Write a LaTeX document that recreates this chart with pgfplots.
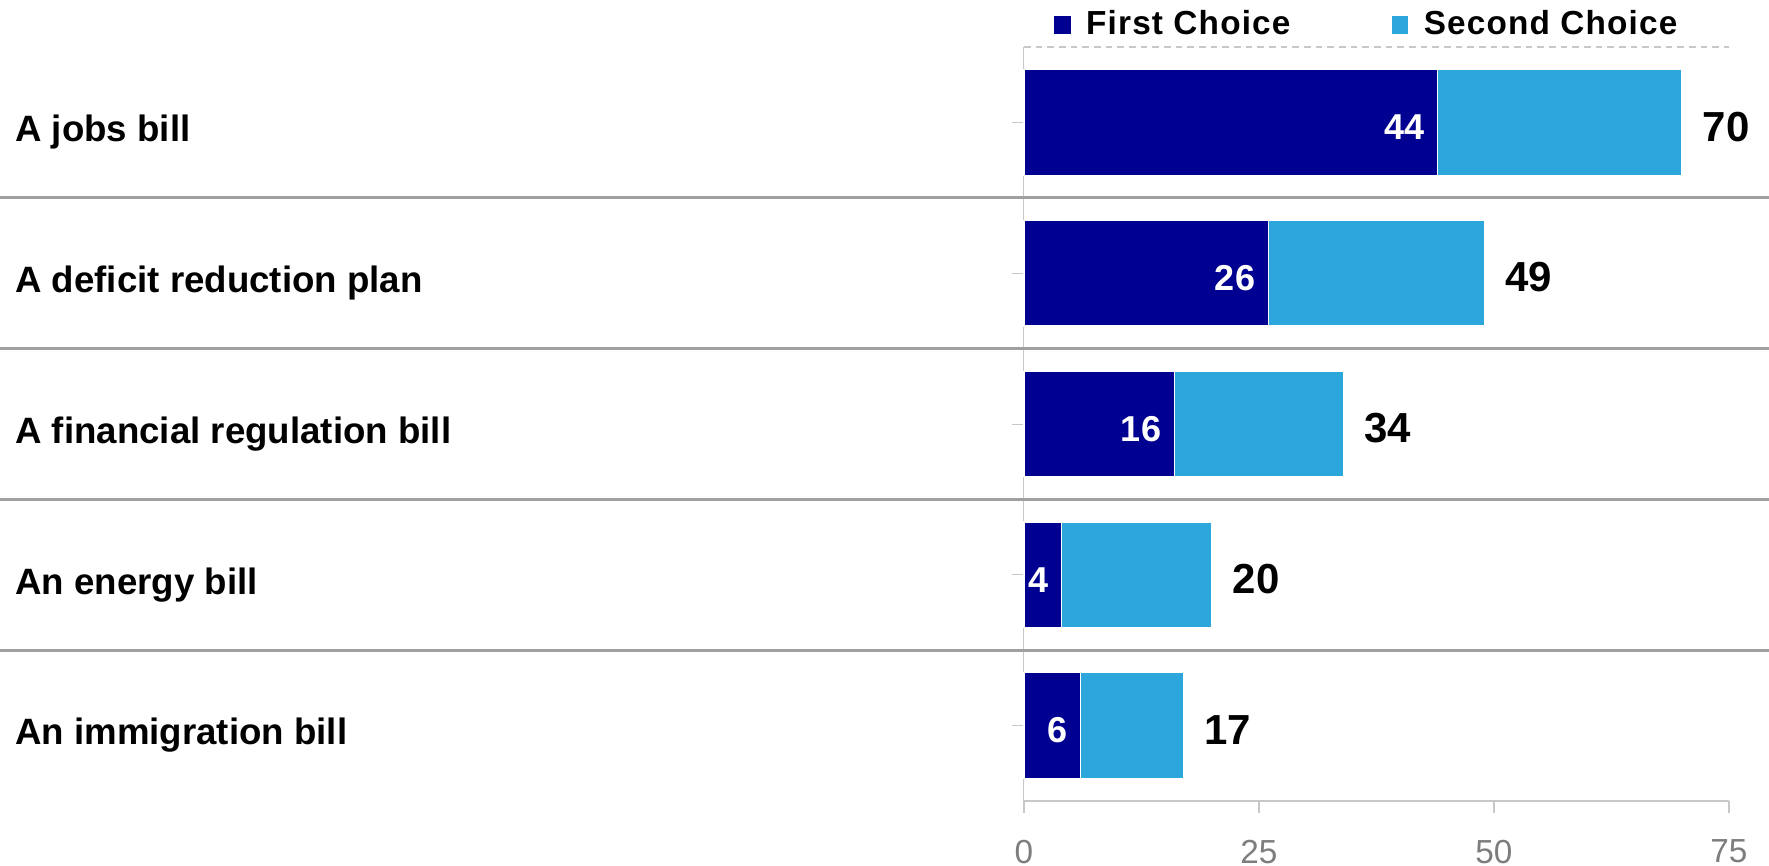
\documentclass[border=0pt]{standalone}
\usepackage{pgfplots}
\pgfplotsset{compat=1.18}
\usepackage{fontspec}
\setmainfont{Liberation Sans}
\newfontfamily\legfont[LetterSpace=3.5]{Liberation Sans}
\newfontfamily\numfont[LetterSpace=2]{Liberation Sans}
\definecolor{firstc}{RGB}{0,0,145}
\definecolor{secondc}{RGB}{45,166,220}
\definecolor{sepgray}{RGB}{160,160,160}
\definecolor{axgray}{RGB}{200,200,200}
\definecolor{tickgray}{RGB}{125,125,125}
\pgfplotsset{
  geom/.style={at={(307.2pt,19.5pt)}, anchor=south west,
    scale only axis, width=211.5pt, height=226.2pt,
    xmin=0, xmax=75, ymin=-0.5, ymax=4.5, clip=false,
    /pgf/number format/assume math mode=true},
}
\begin{document}
\begin{tikzpicture}
\useasboundingbox (0,0) rectangle (530.7pt,259.8pt);
\begin{axis}[
  geom,
  xbar stacked, bar width=0.7,
  xtick={0,25,50,75},
  ytick={0,1,2,3,4},
  yticklabels={An immigration bill, An energy bill, A financial regulation bill, A deficit reduction plan, A jobs bill},
  axis x line*=bottom, axis y line*=left,
  x axis line style={draw=axgray, line width=0.6pt},
  y axis line style={draw=axgray, line width=0.3pt},
  tick align=outside, major tick length=3.6pt,
  xtick style={draw=axgray, line width=0.6pt},
  ytick style={draw=axgray, line width=0.3pt},
  xticklabel style={font=\fontsize{10}{12}\selectfont, text=tickgray, yshift=-4.5pt},
  yticklabel style={font=\fontsize{11}{13}\selectfont\bfseries, anchor=west, inner sep=0pt, xshift=-299.2pt, yshift=-3pt, text=black},
  legend image code/.code={\fill[#1] (0pt,-2.8pt) rectangle (5.4pt,2.8pt);},
  legend style={draw=none, fill=none, at={(0.04,1.029)}, anchor=west, inner sep=0pt,
    legend columns=2, font=\legfont\bfseries\fontsize{10}{12}\selectfont,
    nodes={inner xsep=4.2pt},
    /tikz/every even column/.append style={column sep=25.8pt}},
]
\addplot[fill=firstc, draw=white, line width=0.4pt]
  table[x index=0, y index=1] {
44 4
26 3
16 2
4 1
6 0
};
\addplot[fill=secondc, draw=white, line width=0.4pt]
  table[x index=0, y index=1] {
26 4
23 3
18 2
16 1
11 0
};
\legend{First Choice, Second Choice}
\draw[axgray, dash pattern=on 2pt off 1.5pt, line width=0.5pt] (axis cs:0,4.5) -- (axis cs:75,4.5);
\draw[sepgray, line width=1pt] (axis cs:-108.9,0.5) -- (axis cs:79.3,0.5);
\draw[sepgray, line width=1pt] (axis cs:-108.9,1.5) -- (axis cs:79.3,1.5);
\draw[sepgray, line width=1pt] (axis cs:-108.9,2.5) -- (axis cs:79.3,2.5);
\draw[sepgray, line width=1pt] (axis cs:-108.9,3.5) -- (axis cs:79.3,3.5);
\end{axis}
\begin{axis}[geom, hide axis, point meta=explicit]
\addplot[draw=none, nodes near coords,
  every node near coord/.append style={anchor=east, inner sep=0pt, xshift=-3.6pt, yshift=-1.5pt, text=white, font=\numfont\fontsize{10.8}{12}\selectfont\bfseries}]
  table[x index=0, y index=1, meta index=2] {
44 4 44
26 3 26
16 2 16
4 1 4
6 0 6
};
\addplot[draw=none, nodes near coords,
  every node near coord/.append style={anchor=west, inner sep=0pt, xshift=6pt, yshift=-1.3pt, text=black, font=\fontsize{12.6}{14}\selectfont\bfseries}]
  table[x index=0, y index=1, meta index=2] {
70 4 70
49 3 49
34 2 34
20 1 20
17 0 17
};
\end{axis}
\end{tikzpicture}
\end{document}
